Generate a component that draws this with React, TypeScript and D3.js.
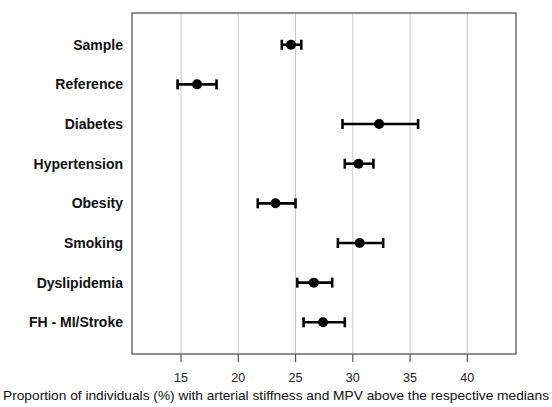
import React from "react";
import * as d3 from "d3";

const categories = ["Sample", "Reference", "Diabetes", "Hypertension", "Obesity", "Smoking", "Dyslipidemia", "FH - MI/Stroke"];
const estimates = [24.6, 16.4, 32.3, 30.5, 23.25, 30.6, 26.6, 27.4];
const lowerCI = [23.8, 14.7, 29.1, 29.3, 21.7, 28.7, 25.15, 25.7];
const upperCI = [25.5, 18.1, 35.7, 31.8, 25.0, 32.65, 28.2, 29.3];
const xTicks = [15, 20, 25, 30, 35, 40];
const xTitle = "Proportion of individuals (%) with arterial stiffness and MPV above the respective medians";

export default function App() {
  const W = 552, H = 407;
  const left = 132, right = 516, top = 13, bottom = 354;
  const x = d3.scaleLinear().domain([10.72, 44.25]).range([left, right]);
  const y = d3.scalePoint<string>().domain(categories).range([top, bottom]).padding(0.8);
  const font = "Arial, 'Liberation Sans', Helvetica, sans-serif";
  const cap = 5;
  const sw = 2.6;
  return (
    <svg width={W} height={H} style={{ position: "absolute", left: 0, top: 0, background: "#fff" }}>
      <rect x={0} y={0} width={W} height={H} fill="#fff" />
      {xTicks.map((t) => (
        <line key={"g" + t} x1={x(t)} x2={x(t)} y1={top} y2={bottom} stroke="#c8c8c8" strokeWidth={1} />
      ))}
      <rect x={left} y={top} width={right - left} height={bottom - top} fill="none" stroke="#6b6b6b" strokeWidth={1.5} />
      {xTicks.map((t) => (
        <g key={"t" + t}>
          <line x1={x(t)} x2={x(t)} y1={bottom} y2={bottom + 8} stroke="#555" strokeWidth={1.2} />
          <text x={x(t)} y={bottom + 28} textAnchor="middle" fontFamily={font} fontSize={12.5} fill="#222">{t}</text>
        </g>
      ))}
      {categories.map((c, i) => {
        const yy = y(c) as number;
        return (
          <g key={c}>
            <text x={123} y={yy} dy="0.35em" textAnchor="end" fontFamily={font} fontSize={14} fontWeight="bold" fill="#111">{c}</text>
            <line x1={x(lowerCI[i])} x2={x(upperCI[i])} y1={yy} y2={yy} stroke="#000" strokeWidth={sw} />
            <line x1={x(lowerCI[i])} x2={x(lowerCI[i])} y1={yy - cap} y2={yy + cap} stroke="#000" strokeWidth={sw} />
            <line x1={x(upperCI[i])} x2={x(upperCI[i])} y1={yy - cap} y2={yy + cap} stroke="#000" strokeWidth={sw} />
            <circle cx={x(estimates[i])} cy={yy} r={5} fill="#000" />
          </g>
        );
      })}
      <text x={276} y={400} textAnchor="middle" fontFamily={font} fontSize={13.5} fill="#111" textLength={546} lengthAdjust="spacingAndGlyphs">{xTitle}</text>
    </svg>
  );
}
